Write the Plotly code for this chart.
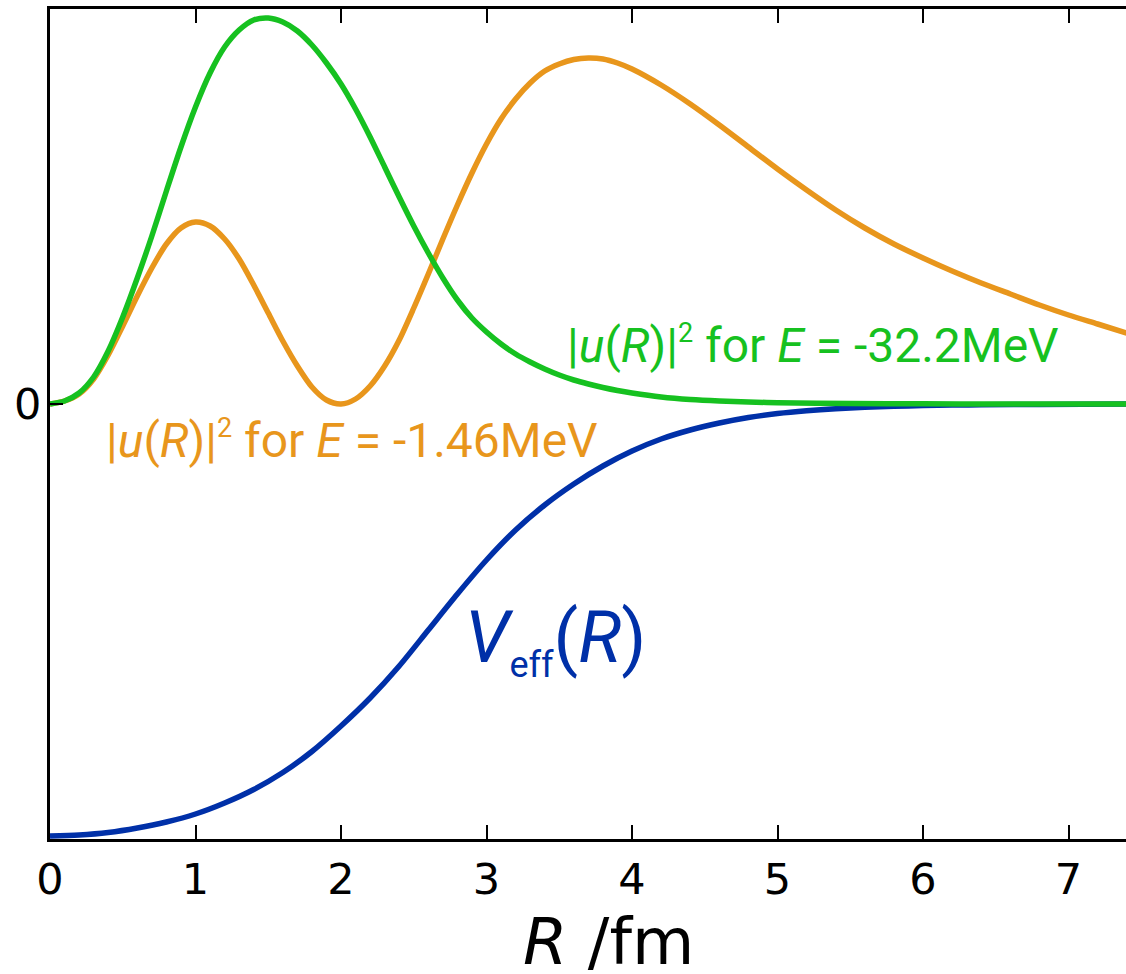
import plotly.graph_objects as go

# ---- data (arbitrary units, y=0 at the zero line) ----
R_green = [0.0, 0.1, 0.2, 0.3, 0.4, 0.5, 0.6, 0.7, 0.8, 0.9, 1.0, 1.1, 1.2, 1.3, 1.4, 1.5,
           1.6, 1.7, 1.8, 1.9, 2.0, 2.1, 2.2, 2.3, 2.4, 2.5, 2.6, 2.7, 2.8, 2.9, 3.0,
           3.1, 3.2, 3.3, 3.4, 3.5, 3.6, 3.7, 3.8, 3.9, 4.0, 4.2, 4.4, 4.6, 4.8, 5.0,
           5.5, 6.0, 6.5, 7.0, 7.4]
u2_green = [0, 3, 11, 27, 53, 87, 126, 168, 213, 257, 297, 331, 357, 374, 384, 386,
            382, 373, 359, 341, 320, 295, 267, 237, 207, 178, 151, 126, 104, 86, 72,
            60, 50, 42, 35, 29, 24, 20, 16.5, 13.5, 11, 7, 4.5, 3, 2, 1.3,
            0.5, 0.2, 0.05, 0, 0]

R_orange = [0.0, 0.1, 0.2, 0.3, 0.4, 0.5, 0.6, 0.7, 0.8, 0.9, 1.0, 1.1, 1.2, 1.3, 1.4, 1.5,
            1.6, 1.7, 1.8, 1.9, 2.0, 2.1, 2.2, 2.3, 2.4, 2.5, 2.6, 2.7, 2.8, 2.9, 3.0,
            3.1, 3.2, 3.3, 3.4, 3.5, 3.6, 3.7, 3.8, 3.9, 4.0, 4.2, 4.4, 4.6, 4.8, 5.0,
            5.2, 5.4, 5.6, 5.8, 6.0, 6.2, 6.4, 6.6, 6.8, 7.0, 7.2, 7.4]
u2_orange = [0, 3, 10, 25, 49, 78, 108, 136, 160, 176, 182, 178, 165, 145, 119, 91,
             63, 38, 17, 4, 0, 5, 18, 38, 64, 96, 130, 165, 199, 231, 260,
             285, 305, 321, 333, 340, 344.5, 346, 345, 341, 335, 319, 300, 279, 257, 235,
             214, 194, 176, 160, 146, 133, 121, 110, 99, 89, 80, 71]

R_blue = [0.0, 0.2, 0.4, 0.6, 0.8, 1.0, 1.2, 1.4, 1.6, 1.8, 2.0, 2.2, 2.4, 2.6, 2.8, 3.0,
          3.2, 3.4, 3.6, 3.8, 4.0, 4.2, 4.4, 4.6, 4.8, 5.0, 5.2, 5.4, 5.6, 5.8, 6.0,
          6.2, 6.4, 6.8, 7.4]
V_blue = [-432, -431, -428.5, -424, -418, -410, -399, -385.5, -368.5, -347.5, -322, -294,
          -262, -226, -190, -156, -126, -101, -80, -62, -47, -35, -26, -19, -13.5, -9.5,
          -6.7, -4.7, -3.3, -2.3, -1.6, -1.1, -0.8, -0.4, -0.1]

x_ticks = [0, 1, 2, 3, 4, 5, 6, 7]
y_ticks = [0]
y_ticklabels = ["0"]

GREEN = "#16c120"
ORANGE = "#e8961c"
BLUE = "#0030a8"
LW = 5.5
SM = 0.8

fig = go.Figure()
fig.add_trace(go.Scatter(x=R_blue, y=V_blue, mode="lines",
                         line=dict(color=BLUE, width=LW, shape="spline", smoothing=SM),
                         showlegend=False))
fig.add_trace(go.Scatter(x=R_orange, y=u2_orange, mode="lines",
                         line=dict(color=ORANGE, width=LW, shape="spline", smoothing=SM),
                         showlegend=False))
fig.add_trace(go.Scatter(x=R_green, y=u2_green, mode="lines",
                         line=dict(color=GREEN, width=LW, shape="spline", smoothing=SM),
                         showlegend=False))

fig.update_layout(
    width=1126, height=974,
    margin=dict(l=50, r=0, t=9, b=135),
    paper_bgcolor="white", plot_bgcolor="white",
    font=dict(family="DejaVu Sans", color="black"),
)
fig.update_xaxes(
    range=[0, 7.395], tickvals=x_ticks, ticks="inside", ticklen=14, tickwidth=2,
    tickcolor="black", showline=True, linecolor="black", linewidth=3, mirror="ticks",
    showgrid=False, zeroline=False, tickfont=dict(family="DejaVu Sans", size=43),
)
fig.update_yaxes(
    range=[-435, 395], tickvals=y_ticks, ticktext=y_ticklabels, ticks="inside",
    ticklen=13, tickwidth=2, tickcolor="black", showline=True, linecolor="black",
    linewidth=3, showgrid=False, zeroline=False, ticklabelstandoff=-3,
    tickfont=dict(family="DejaVu Sans", size=43),
)

SUP = '<sup><span style="font-size:27px">2</span></sup>'
fig.add_annotation(text="<i>R</i> /fm", xref="paper", yref="paper", x=0.5195, y=-0.124,
                   xanchor="center", yanchor="middle", showarrow=False,
                   font=dict(family="DejaVu Sans", size=64, color="black"))
fig.add_annotation(text="|<i>u</i>(<i>R</i>)|" + SUP + " for <i>E</i> = -32.2MeV",
                   xref="x", yref="y", x=3.54, y=59, xanchor="left", yanchor="middle",
                   showarrow=False, font=dict(family="Roboto", size=48, color=GREEN))
fig.add_annotation(text="|<i>u</i>(<i>R</i>)|" + SUP + " for <i>E</i> = -1.46MeV",
                   xref="x", yref="y", x=0.37, y=-36, xanchor="left", yanchor="middle",
                   showarrow=False, font=dict(family="Roboto", size=48, color=ORANGE))
fig.add_annotation(text='<i>V</i><sub><span style="font-size:36px">eff</span></sub>(<i>R</i>)',
                   xref="x", yref="y", x=2.84, y=-236, xanchor="left", yanchor="middle",
                   showarrow=False, font=dict(family="Roboto", size=72, color=BLUE))

fig.write_html("out.html")
